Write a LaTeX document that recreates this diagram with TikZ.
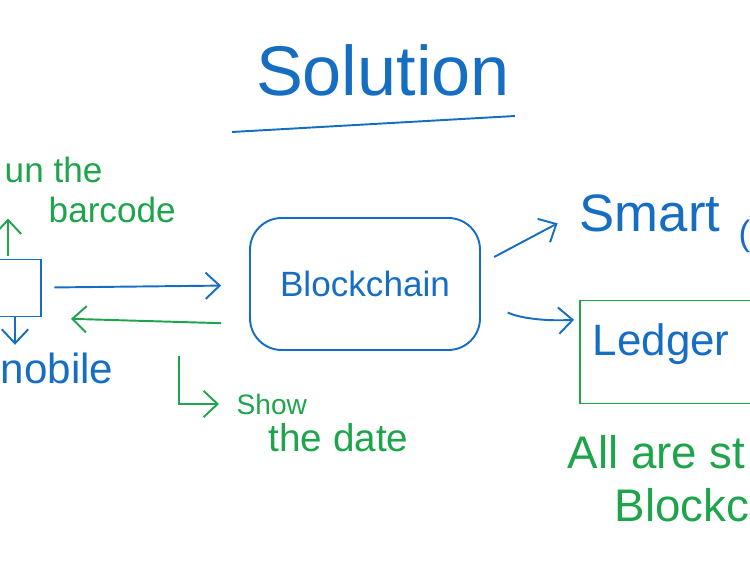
\documentclass[tikz,border=0pt]{standalone}
\usepackage{fontspec}
\setmainfont{Liberation Sans}
\usetikzlibrary{positioning,arrows.meta}
\definecolor{inkblue}{RGB}{22,110,195}
\definecolor{inkgreen}{RGB}{30,165,75}
\begin{document}
\begin{tikzpicture}[x=0.02cm,y=-0.02cm,line width=1.1pt,
                >={Straight Barb[length=8pt,width=15pt]},
                blueink/.style={text=inkblue,draw=inkblue},
                greenink/.style={text=inkgreen,draw=inkgreen},
                bluearrow/.style={draw=inkblue,->},
                greenarrow/.style={draw=inkgreen,->},
                word/.style={inner sep=1pt,font=\fontsize{#1}{#1}\selectfont},
                word/.default=22]
                \useasboundingbox (0,0) rectangle (750,570);
                \clip (0,0) rectangle (750,570);
                \node[word=40,text=inkblue] (sol) at (383,70) {Solution};
                \draw[inkblue] (232,132) -- (515,116);
                \node[blueink,draw,rounded corners=18pt,minimum width=4.6cm,minimum height=2.64cm,word=20] (chain) at (365,284) {Blockchain};
                \node[blueink,draw,minimum width=1.44cm,minimum height=1.14cm] (phone) at (5,288) {};
                \node[greenink,draw,minimum width=4.4cm,minimum height=2.06cm] (ledger) at (690,352) {};
                \node[word=25,text=inkblue,anchor=west] (ledtext) at ([xshift=0.22cm,yshift=0.15cm]ledger.west) {Ledger};
                \node[word=24,text=inkblue,anchor=west] (mob) at (-2,368) {nobile};
                \node[word=20,text=inkgreen,anchor=west] (scan) at (2,170) {un the};
                \node[word=20,text=inkgreen,anchor=west] (code) at (46,210) {barcode};
                \node[word=16,text=inkgreen,anchor=west] (show) at (234,404) {Show};
                \node[word=22,text=inkgreen,anchor=west] (date) at (266,438) {the date};
                \node[word=30,text=inkblue,anchor=west] (smart) at (577,213) {Smart};
                \node[word=20,text=inkblue,anchor=west] (paren) at (736,236) {(};
                \node[word=26,text=inkgreen,anchor=west] (all) at (565,452) {All are st};
                \node[word=26,text=inkgreen,anchor=west] (blk) at (612,505) {Blockc};
                \draw[bluearrow,shorten <=0.25cm,shorten >=0.56cm] (phone) -- (chain);
                \draw[greenarrow,shorten <=0.56cm,shorten >=0.58cm] ([yshift=-0.8cm]chain.west) -- ([yshift=-0.6cm]phone.east);
                \draw[bluearrow,shorten >=0.1cm] ([xshift=0.2cm]phone.south) -- ([xshift=0.2cm]phone.south |- mob.north);
                \draw[greenarrow,shorten <=0.05cm] ([xshift=0.06cm]phone.north) -- ++(0,-40);
                \draw[greenarrow,shorten >=0.3cm] ([xshift=-1.4cm,yshift=-0.1cm]chain.south west) |- (show.west);
                \draw[bluearrow,shorten <=0.3cm,shorten >=0.44cm] ([yshift=0.4cm]chain.east) -- (smart.west);
                \draw[bluearrow,shorten <=0.6cm,shorten >=0.1cm] ([yshift=-0.3cm]chain.east) to[bend right=15] ([yshift=0.65cm]ledger.west);
            \end{tikzpicture}
\end{document}
